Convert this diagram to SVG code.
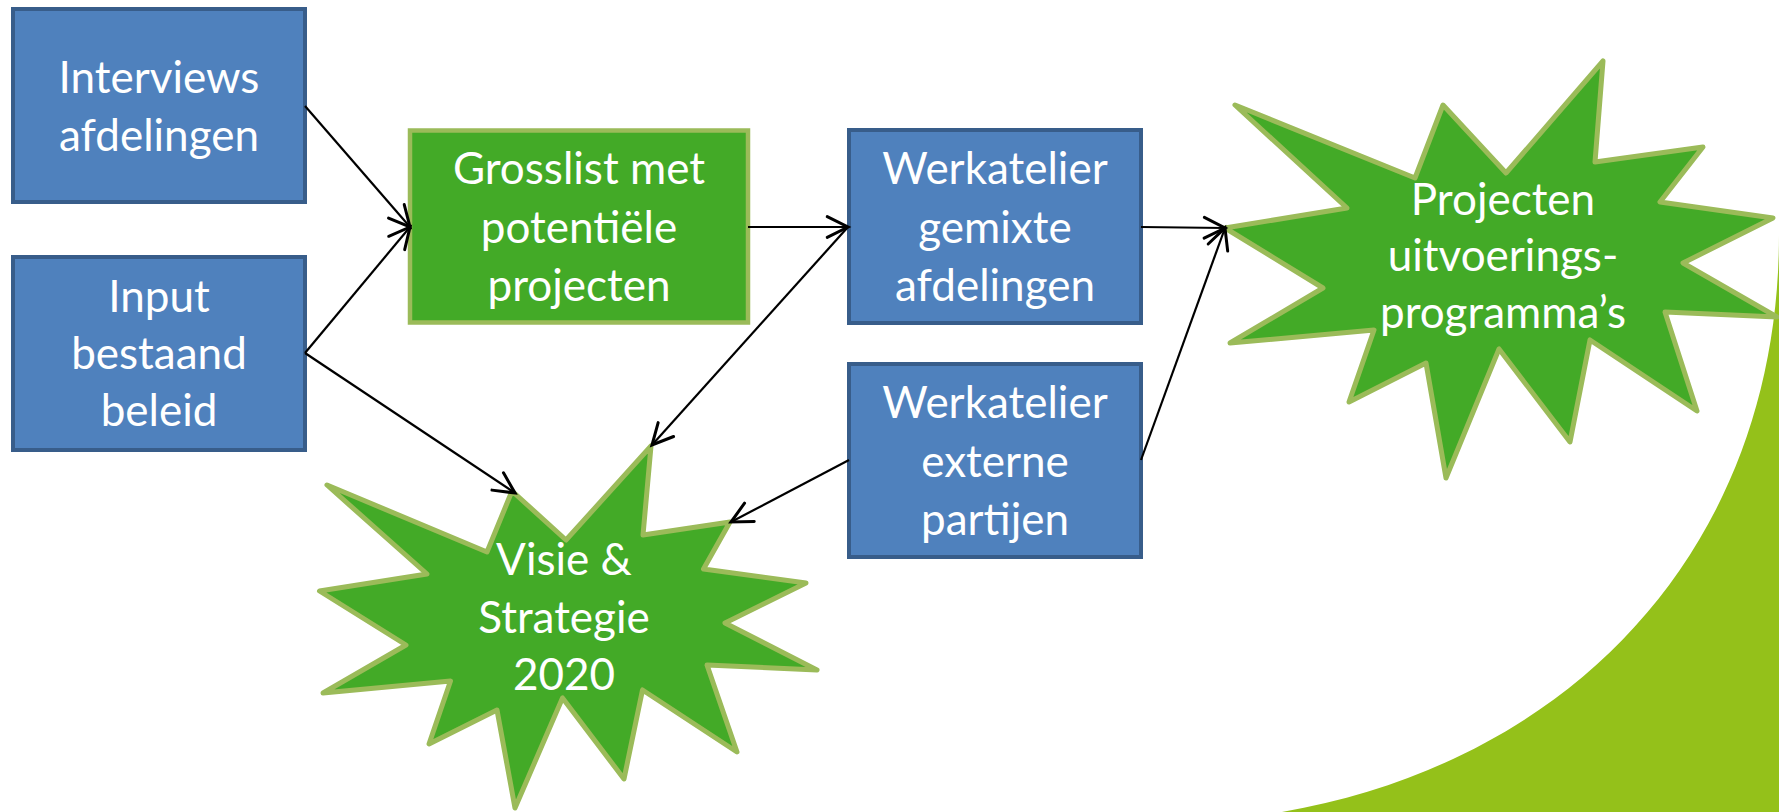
<svg xmlns="http://www.w3.org/2000/svg" width="1779" height="812" viewBox="0 0 1779 812">
<defs>
<style>
.box{fill:#4F81BD;stroke:#385D8A;stroke-width:4}
.gbox{fill:#43AA27;stroke:#9BBB59;stroke-width:4.5}
.star{fill:#43AA27;stroke:#9BBB59;stroke-width:5;stroke-linejoin:round}
.t{font-family:Lato,"Open Sans","Liberation Sans",sans-serif;font-size:44px;fill:#FFFFFF;text-anchor:middle}
.c{stroke:#000;stroke-width:2.2;fill:none;marker-end:url(#arr)}
</style>
<marker id="arr" markerUnits="userSpaceOnUse" markerWidth="30" markerHeight="30" viewBox="-22 -12 26 24" refX="0" refY="0" orient="auto">
<path d="M -18 -9 L 0 0 L -18 9" fill="none" stroke="#000" stroke-width="2.6" stroke-linecap="round" stroke-linejoin="miter"/>
</marker>
</defs>
<rect width="1779" height="812" fill="#FFFFFF"/>
<path id="bg-curve" d="M 1779 235 C 1779 540 1580 760 1282 812 L 1779 812 Z" fill="#94C11A"/>

<g id="node-interviews">
<rect class="box" x="13" y="9" width="292" height="193"/>
<text class="t" x="159" y="93">Interviews</text>
<text class="t" x="159" y="151">afdelingen</text>
</g>
<g id="node-input">
<rect class="box" x="13" y="257" width="292" height="193"/>
<text class="t" x="159" y="312">Input</text>
<text class="t" x="159" y="369">bestaand</text>
<text class="t" x="159" y="426">beleid</text>
</g>
<g id="node-grosslist">
<rect class="gbox" x="410" y="130.5" width="338" height="192"/>
<text class="t" x="579" y="184">Grosslist met</text>
<text class="t" x="579" y="243">potentiële</text>
<text class="t" x="579" y="301">projecten</text>
</g>
<g id="node-werk-gemixte">
<rect class="box" x="849" y="130" width="292" height="193"/>
<text class="t" x="995" y="184">Werkatelier</text>
<text class="t" x="995" y="243">gemixte</text>
<text class="t" x="995" y="301">afdelingen</text>
</g>
<g id="node-werk-extern">
<rect class="box" x="849" y="364" width="292" height="193"/>
<text class="t" x="995" y="418">Werkatelier</text>
<text class="t" x="995" y="477">externe</text>
<text class="t" x="995" y="535">partijen</text>
</g>
<g id="node-visie">
<polygon class="star" points="327,485 487,552 512,491 566,540 651,446 643,535 730,522 703.5,569 806,583 725,623 817,670 707,665 737,752 642.5,690 624,779 562.5,698 515,808 497,710 429,744 450.5,681 323,693 406,645 319.5,591 427,574"/>
<text class="t" x="564" y="575">Visie &amp;</text>
<text class="t" x="564" y="633">Strategie</text>
<text class="t" x="564" y="690">2020</text>
</g>
<g id="node-projecten">
<polygon class="star" points="1235,105 1415,178 1443,105 1506,173 1603,61 1595,162 1703,147 1660,202 1773,218 1683,263 1777,317 1665,312 1697,411 1590,340 1570,442 1499,349 1446,478 1426,363 1349,402 1374,330 1230,343 1323,288 1225,228 1347,208"/>
<text class="t" x="1503" y="215">Projecten</text>
<text class="t" x="1503" y="271">uitvoerings-</text>
<text class="t" x="1503" y="328">programma’s</text>
</g>

<g id="connectors">
<line class="c" x1="305" y1="106" x2="410" y2="227"/>
<line class="c" x1="305" y1="353" x2="410" y2="227"/>
<line class="c" x1="305" y1="353" x2="515" y2="493"/>
<line class="c" x1="748" y1="227" x2="848" y2="227"/>
<line class="c" x1="848" y1="227" x2="652" y2="445"/>
<line class="c" x1="1141" y1="227" x2="1225" y2="228"/>
<line class="c" x1="849" y1="460" x2="731" y2="522"/>
<line class="c" x1="1141" y1="460" x2="1225" y2="228"/>
</g>
</svg>
